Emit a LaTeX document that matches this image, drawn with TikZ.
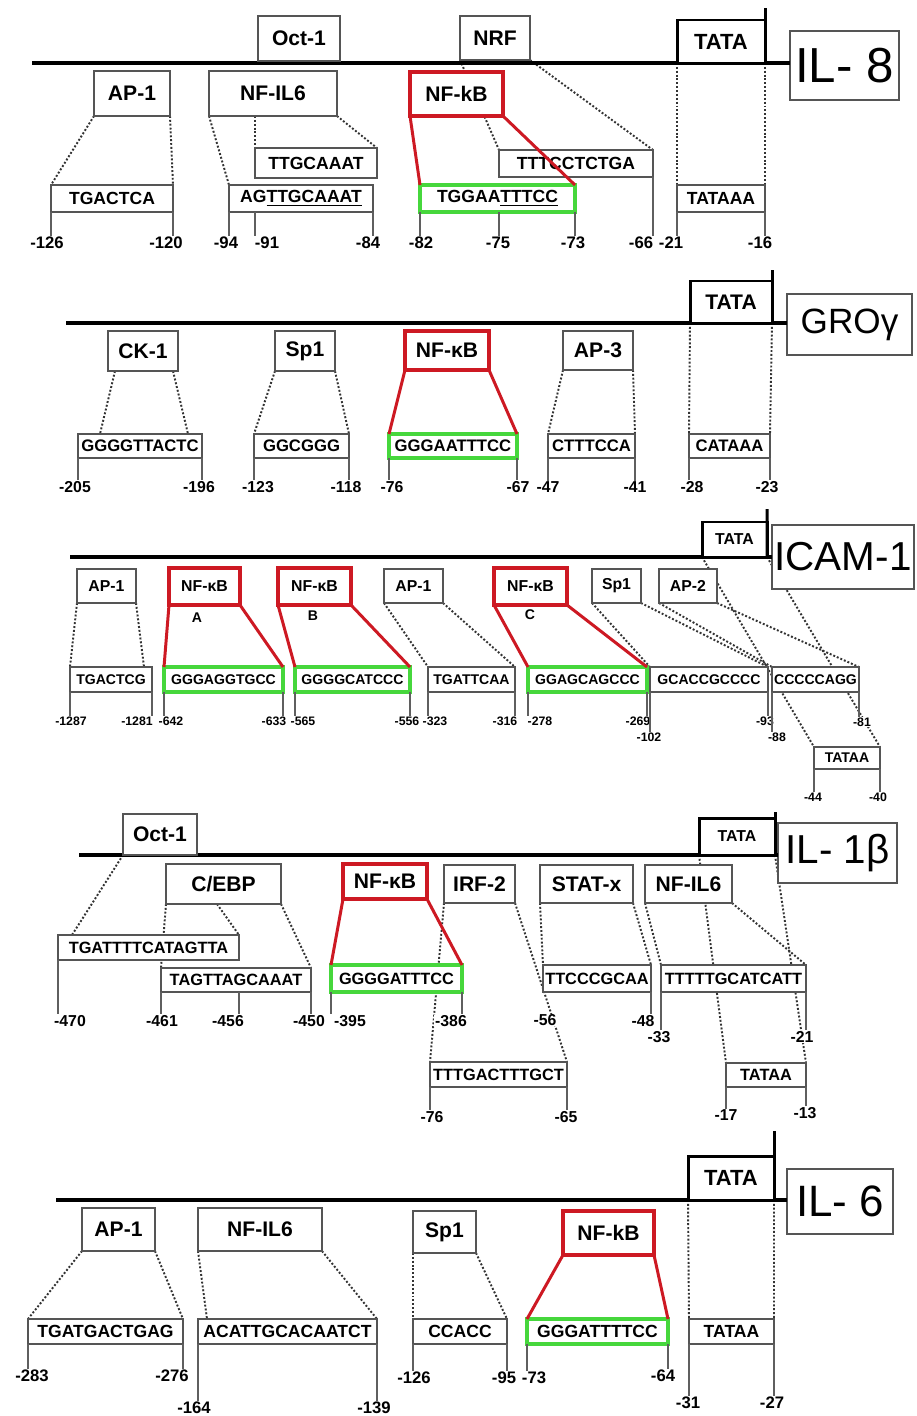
\documentclass[tikz,border=0pt]{standalone}
\usepackage{fontspec}
\setmainfont{Liberation Sans}
\usetikzlibrary{calc,backgrounds}
\definecolor{boxgray}{RGB}{85,85,85}
\definecolor{tickgray}{RGB}{95,95,95}
\definecolor{kbred}{RGB}{205,25,35}
\definecolor{kbgreen}{RGB}{70,215,60}
\tikzset{
  wd/.style={minimum width=#1*0.02cm},
  ht/.style={minimum height=#1*0.02cm},
  dnaline/.style={line width=2.3pt},
  tssline/.style={line width=1.7pt},
  tatabox/.style={draw, line width=1.7pt, fill=white, inner sep=0pt, outer sep=0pt, font=\bfseries\fontsize{12.5}{14}\selectfont},
  genebox/.style={draw=boxgray, line width=0.9pt, fill=white, inner sep=0pt, outer sep=0pt},
  sitebox/.style={draw=boxgray, line width=0.9pt, fill=white, inner sep=0pt, outer sep=0pt, font=\bfseries\fontsize{12}{14}\selectfont},
  kbbox/.style={sitebox, draw=kbred, line width=2.7pt},
  seqbox/.style={draw=boxgray, line width=1pt, fill=white, inner sep=0pt, outer sep=0pt, font=\bfseries\fontsize{10}{12}\selectfont},
  kbseq/.style={seqbox, draw=kbgreen, line width=2pt},
  posnum/.style={fill=white, inner sep=0.4pt, font=\bfseries\fontsize{9.5}{11}\selectfont},
  kbtag/.style={inner sep=0pt, font=\bfseries\fontsize{8}{9}\selectfont},
  tickline/.style={tickgray, line width=0.6pt},
  mapline/.style={black!80, line width=1.1pt, dash pattern=on 1.1pt off 1.1pt},
  kbline/.style={kbred, line width=1.7pt}
}

\begin{document}
\begin{tikzpicture}[x=0.02cm, y=-0.02cm]
\useasboundingbox (0,0) rectangle (916,1416);

\coordinate (il8start) at (32,63);
\coordinate (il8top) at (765,8);
\node[genebox, wd=109, ht=69, font=\fontsize{28}{30}\selectfont] (il8gene) at (844.5,65.5) {IL- 8};
\draw[dnaline] (il8start) -- (il8start -| il8gene.west);
\node[tatabox, wd=88, ht=43] (il8tata) at (721,41.5) {TATA};
\draw[tssline] (il8tata.south east) -- (il8top);
\node[sitebox, wd=82, ht=45] (il8oct) at (299,38.5) {Oct-1};
\node[sitebox, wd=70, ht=44] (il8nrf) at (495,38) {NRF};
\node[sitebox, wd=76, ht=45] (il8ap1) at (132,93.5) {AP-1};
\node[sitebox, wd=128, ht=45] (il8nfil6) at (273,93.5) {NF-IL6};
\node[kbbox, wd=93, ht=44] (il8kb) at (456.5,94) {NF-kB};
\node[seqbox, wd=122, ht=30] (il8nfil6t) at (316,163) {TTGCAAAT};
\node[seqbox, wd=154, ht=27] (il8nrfs) at (576,163.5) {TTTCCTCTGA};
\node[seqbox, wd=122, ht=27] (il8ap1s) at (112,198.5) {TGACTCA};
\node[seqbox, wd=144, ht=27] (il8nfil6s) at (301,198.5) {AG\underline{TTGCAAAT}};
\node[kbseq, wd=155, ht=27] (il8kbs) at (497.5,198.5) {TGGAA\underline{TTTCC}};
\node[seqbox, wd=88, ht=27] (il8tatas) at (721,198.5) {TATAAA};
\node[posnum] (il8n126) at (47,243) {-126};
\node[posnum] (il8n120) at (166,243) {-120};
\node[posnum] (il8n94) at (226,243) {-94};
\node[posnum] (il8n91) at (267,243) {-91};
\node[posnum] (il8n84) at (368,243) {-84};
\node[posnum] (il8n82) at (421,243) {-82};
\node[posnum] (il8n75) at (498,243) {-75};
\node[posnum] (il8n73) at (573,243) {-73};
\node[posnum] (il8n66) at (641,243) {-66};
\node[posnum] (il8n21) at (671,243) {-21};
\node[posnum] (il8n16) at (760,243) {-16};
\draw[tickline] (il8ap1s.south west) -- (il8ap1s.south west |- il8n126.north);
\draw[tickline] (il8ap1s.south east) -- (il8ap1s.south east |- il8n120.north);
\draw[tickline] (il8nfil6s.south west) -- (il8nfil6s.south west |- il8n94.north);
\draw[tickline] (il8nfil6t.south west |- il8nfil6s.south) -- (il8nfil6t.south west |- il8n91.north);
\draw[tickline] (il8nfil6s.south east) -- (il8nfil6s.south east |- il8n84.north);
\draw[tickline] (il8kbs.south west) -- (il8kbs.south west |- il8n82.north);
\draw[tickline] (il8nrfs.south west |- il8kbs.south) -- (il8nrfs.south west |- il8n75.north);
\draw[tickline] (il8kbs.south east) -- (il8kbs.south east |- il8n73.north);
\draw[tickline] (il8nrfs.south east) -- (il8nrfs.south east |- il8n66.north);
\draw[tickline] (il8tatas.south west) -- (il8tatas.south west |- il8n21.north);
\draw[tickline] (il8tatas.south east) -- (il8tatas.south east |- il8n16.north);
\draw[kbline] (il8kb.south west) -- (il8kbs.north west);
\draw[kbline] (il8kb.south east) -- (il8kbs.north east);

\begin{scope}[seqbox/.append style={font=\bfseries\fontsize{9.5}{11}\selectfont}, posnum/.append style={font=\bfseries\fontsize{9}{11}\selectfont}]
\coordinate (grostart) at (66,323);
\coordinate (grotop) at (772,270);
\node[genebox, wd=125, ht=61, font=\fontsize{20}{22}\selectfont] (grogene) at (849.5,324.5) {GROγ};
\draw[dnaline] (grostart) -- (grostart -| grogene.west);
\node[tatabox, wd=82, ht=42, font=\bfseries\fontsize{12}{14}\selectfont] (grotata) at (731,302) {TATA};
\draw[tssline] (grotata.south east) -- (grotop);
\node[sitebox, wd=70, ht=40] (grock1) at (143,351) {CK-1};
\node[sitebox, wd=60, ht=40] (grosp1) at (305,351) {Sp1};
\node[kbbox, wd=84, ht=39] (grokb) at (447,350.5) {NF-κB};
\node[sitebox, wd=70, ht=39] (groap3) at (598,350.5) {AP-3};
\node[seqbox, wd=124, ht=24] (grock1s) at (140,446) {GGGGTTACTC};
\node[seqbox, wd=95, ht=24] (grosp1s) at (301.5,446) {GGCGGG};
\node[kbseq, wd=128, ht=24] (grokbs) at (453,446) {GGGAATTTCC};
\node[seqbox, wd=87, ht=24] (groap3s) at (591.5,446) {CTTTCCA};
\node[seqbox, wd=81, ht=24] (grotatas) at (729.5,446) {CATAAA};
\node[posnum] (gron205) at (75,487) {-205};
\node[posnum] (gron196) at (199,487) {-196};
\node[posnum] (gron123) at (258,487) {-123};
\node[posnum] (gron118) at (346,487) {-118};
\node[posnum] (gron76) at (392,487) {-76};
\node[posnum] (gron67) at (518,487) {-67};
\node[posnum] (gron47) at (548,487) {-47};
\node[posnum] (gron41) at (635,487) {-41};
\node[posnum] (gron28) at (692,487) {-28};
\node[posnum] (gron23) at (767,487) {-23};
\draw[tickline] (grock1s.south west) -- (grock1s.south west |- gron205.north);
\draw[tickline] (grock1s.south east) -- (grock1s.south east |- gron196.north);
\draw[tickline] (grosp1s.south west) -- (grosp1s.south west |- gron123.north);
\draw[tickline] (grosp1s.south east) -- (grosp1s.south east |- gron118.north);
\draw[tickline] (grokbs.south west) -- (grokbs.south west |- gron76.north);
\draw[tickline] (grokbs.south east) -- (grokbs.south east |- gron67.north);
\draw[tickline] (groap3s.south west) -- (groap3s.south west |- gron47.north);
\draw[tickline] (groap3s.south east) -- (groap3s.south east |- gron41.north);
\draw[tickline] (grotatas.south west) -- (grotatas.south west |- gron28.north);
\draw[tickline] (grotatas.south east) -- (grotatas.south east |- gron23.north);
\draw[kbline] (grokb.south west) -- (grokbs.north west);
\draw[kbline] (grokb.south east) -- (grokbs.north east);
\end{scope}

\begin{scope}[sitebox/.append style={font=\bfseries\fontsize{9}{11}\selectfont}, seqbox/.append style={font=\bfseries\fontsize{8}{10}\selectfont}, posnum/.append style={font=\bfseries\fontsize{7}{8}\selectfont}, tatabox/.append style={font=\bfseries\fontsize{9}{11}\selectfont}]
\coordinate (icamstart) at (70,557);
\coordinate (icamtop) at (767,509);
\node[genebox, wd=142, ht=64, font=\fontsize{23}{25}\selectfont] (icamgene) at (843,557) {ICAM-1};
\draw[dnaline] (icamstart) -- (icamstart -| icamgene.west);
\node[tatabox, wd=65, ht=35] (icamtata) at (734.5,539.5) {TATA};
\draw[tssline] (icamtata.south east) -- (icamtop);
\node[sitebox, wd=59, ht=34] (icamap1a) at (106.5,586) {AP-1};
\node[kbbox, wd=71, ht=37] (icamkba) at (204.5,586.5) {NF-κB};
\node[kbbox, wd=73, ht=37] (icamkbb) at (314.5,586.5) {NF-κB};
\node[sitebox, wd=59, ht=34] (icamap1b) at (413.5,586) {AP-1};
\node[kbbox, wd=73, ht=37] (icamkbc) at (530.5,586.5) {NF-κB};
\node[sitebox, wd=49, ht=34] (icamsp1) at (616.5,586) {Sp1};
\node[sitebox, wd=58, ht=34] (icamap2) at (688,586) {AP-2};
\node[kbtag] (icamkbatag) at (197,618) {A};
\node[kbtag] (icamkbbtag) at (313,616) {B};
\node[kbtag] (icamkbctag) at (530,615) {C};
\node[seqbox, wd=82, ht=25] (icamap1as) at (111,679.5) {TGACTCG};
\node[kbseq, wd=119, ht=25] (icamkbas) at (223.5,679.5) {GGGAGGTGCC};
\node[kbseq, wd=115, ht=25] (icamkbbs) at (352.5,679.5) {GGGGCATCCC};
\node[seqbox, wd=87, ht=25] (icamap1bs) at (471.5,679.5) {TGATTCAA};
\node[kbseq, wd=119, ht=25] (icamkbcs) at (587.5,679.5) {GGAGCAGCCC};
\node[seqbox, wd=118, ht=25] (icamsp1s) at (709,679.5) {GCACCGCCCC};
\node[seqbox, wd=87, ht=25] (icamap2s) at (815.5,679.5) {CCCCCAGG};
\node[seqbox, wd=66, ht=22] (icamtatas) at (847,758) {TATAA};
\node[posnum] (icamn1287) at (71,721) {-1287};
\node[posnum] (icamn1281) at (137,721) {-1281};
\node[posnum] (icamn642) at (171,721) {-642};
\node[posnum] (icamn633) at (274,721) {-633};
\node[posnum] (icamn565) at (303,721) {-565};
\node[posnum] (icamn556) at (407,721) {-556};
\node[posnum] (icamn323) at (435,721) {-323};
\node[posnum] (icamn316) at (505,721) {-316};
\node[posnum] (icamn278) at (540,721) {-278};
\node[posnum] (icamn269) at (638,721) {-269};
\node[posnum] (icamn102) at (649,737) {-102};
\node[posnum] (icamn93) at (765,721) {-93};
\node[posnum] (icamn88) at (777,737) {-88};
\node[posnum] (icamn81) at (862,722) {-81};
\node[posnum] (icamn44) at (813,797) {-44};
\node[posnum] (icamn40) at (878,797) {-40};
\draw[tickline] (icamap1as.south west) -- (icamap1as.south west |- icamn1287.north);
\draw[tickline] (icamap1as.south east) -- (icamap1as.south east |- icamn1281.north);
\draw[tickline] (icamkbas.south west) -- (icamkbas.south west |- icamn642.north);
\draw[tickline] (icamkbas.south east) -- (icamkbas.south east |- icamn633.north);
\draw[tickline] (icamkbbs.south west) -- (icamkbbs.south west |- icamn565.north);
\draw[tickline] (icamkbbs.south east) -- (icamkbbs.south east |- icamn556.north);
\draw[tickline] (icamap1bs.south west) -- (icamap1bs.south west |- icamn323.north);
\draw[tickline] (icamap1bs.south east) -- (icamap1bs.south east |- icamn316.north);
\draw[tickline] (icamkbcs.south west) -- (icamkbcs.south west |- icamn278.north);
\draw[tickline] (icamkbcs.south east) -- (icamkbcs.south east |- icamn269.north);
\draw[tickline] (icamsp1s.south west) -- (icamsp1s.south west |- icamn102.north);
\draw[tickline] (icamsp1s.south east) -- (icamsp1s.south east |- icamn93.north);
\draw[tickline] (icamap2s.south west) -- (icamap2s.south west |- icamn88.north);
\draw[tickline] (icamap2s.south east) -- (icamap2s.south east |- icamn81.north);
\draw[tickline] (icamtatas.south west) -- (icamtatas.south west |- icamn44.north);
\draw[tickline] (icamtatas.south east) -- (icamtatas.south east |- icamn40.north);
\draw[kbline] (icamkba.south west) -- (icamkbas.north west);
\draw[kbline] (icamkba.south east) -- (icamkbas.north east);
\draw[kbline] (icamkbb.south west) -- (icamkbbs.north west);
\draw[kbline] (icamkbb.south east) -- (icamkbbs.north east);
\draw[kbline] (icamkbc.south west) -- (icamkbcs.north west);
\draw[kbline] (icamkbc.south east) -- (icamkbcs.north east);
\end{scope}

\begin{scope}[seqbox/.append style={font=\bfseries\fontsize{9.3}{11}\selectfont}, posnum/.append style={font=\bfseries\fontsize{9}{11}\selectfont}, tatabox/.append style={font=\bfseries\fontsize{9}{11}\selectfont}]
\coordinate (il1start) at (79,855);
\coordinate (il1top) at (775,812);
\node[genebox, wd=119, ht=60, font=\fontsize{23}{25}\selectfont] (il1gene) at (837.5,853) {IL- 1β};
\draw[dnaline] (il1start) -- (il1start -| il1gene.west);
\node[tatabox, wd=76, ht=37] (il1tata) at (737,836.5) {TATA};
\draw[tssline] (il1tata.south east) -- (il1top);
\node[sitebox, wd=74, ht=41] (il1oct) at (160,834.5) {Oct-1};
\node[sitebox, wd=115, ht=40] (il1cebp) at (223.5,884) {C/EBP};
\node[kbbox, wd=84, ht=35] (il1kb) at (385,881.5) {NF-κB};
\node[sitebox, wd=71, ht=38] (il1irf) at (479.5,884) {IRF-2};
\node[sitebox, wd=93, ht=38] (il1stat) at (586.5,884) {STAT-x};
\node[sitebox, wd=87, ht=38] (il1nfil6) at (688.5,884) {NF-IL6};
\node[seqbox, wd=181, ht=25] (il1octs) at (148.5,947.5) {TGATTTTCATAGTTA};
\node[seqbox, wd=150, ht=24] (il1cebps) at (236,980) {TAGTTAGCAAAT};
\node[kbseq, wd=131, ht=27] (il1kbs) at (396.5,978.5) {GGGGATTTCC};
\node[seqbox, wd=108, ht=27] (il1stats) at (597,978.5) {TTCCCGCAA};
\node[seqbox, wd=145, ht=27] (il1nfil6s) at (733.5,978.5) {TTTTTGCATCATT};
\node[seqbox, wd=137, ht=25] (il1irfs) at (498.5,1074.5) {TTTGACTTTGCT};
\node[seqbox, wd=80, ht=24] (il1tatas) at (766,1075) {TATAA};
\node[posnum] (il1n470) at (70,1021) {-470};
\node[posnum] (il1n461) at (162,1021) {-461};
\node[posnum] (il1n456) at (228,1021) {-456};
\node[posnum] (il1n450) at (309,1021) {-450};
\node[posnum] (il1n395) at (350,1021) {-395};
\node[posnum] (il1n386) at (451,1021) {-386};
\node[posnum] (il1n56) at (545,1020) {-56};
\node[posnum] (il1n48) at (643,1021) {-48};
\node[posnum] (il1n33) at (659,1037) {-33};
\node[posnum] (il1n21) at (802,1037) {-21};
\node[posnum] (il1n76) at (432,1117) {-76};
\node[posnum] (il1n65) at (566,1117) {-65};
\node[posnum] (il1n17) at (726,1115) {-17};
\node[posnum] (il1n13) at (805,1113) {-13};
\draw[tickline] (il1octs.south west) -- (il1octs.south west |- il1n470.north);
\draw[tickline] (il1cebps.south west) -- (il1cebps.south west |- il1n461.north);
\draw[tickline] (il1octs.south east |- il1cebps.south) -- (il1octs.south east |- il1n456.north);
\draw[tickline] (il1cebps.south east) -- (il1cebps.south east |- il1n450.north);
\draw[tickline] (il1kbs.south west) -- (il1kbs.south west |- il1n395.north);
\draw[tickline] (il1kbs.south east) -- (il1kbs.south east |- il1n386.north);
\draw[tickline] (il1stats.south east) -- (il1stats.south east |- il1n48.north);
\draw[tickline] (il1nfil6s.south west) -- (il1nfil6s.south west |- il1n33.north);
\draw[tickline] (il1nfil6s.south east) -- (il1nfil6s.south east |- il1n21.north);
\draw[tickline] (il1irfs.south west) -- (il1irfs.south west |- il1n76.north);
\draw[tickline] (il1irfs.south east) -- (il1irfs.south east |- il1n65.north);
\draw[tickline] (il1tatas.south west) -- (il1tatas.south west |- il1n17.north);
\draw[tickline] (il1tatas.south east) -- (il1tatas.south east |- il1n13.north);
\draw[kbline] (il1kb.south west) -- (il1kbs.north west);
\draw[kbline] (il1kb.south east) -- (il1kbs.north east);
\end{scope}

\coordinate (il6start) at (56,1200);
\coordinate (il6top) at (774,1131);
\node[genebox, wd=106, ht=65, font=\fontsize{25}{27}\selectfont] (il6gene) at (840,1201.5) {IL- 6};
\draw[dnaline] (il6start) -- (il6start -| il6gene.west);
\node[tatabox, wd=86, ht=44] (il6tata) at (731,1178) {TATA};
\draw[tssline] (il6tata.south east) -- (il6top);
\node[sitebox, wd=73, ht=43] (il6ap1) at (118.5,1229.5) {AP-1};
\node[sitebox, wd=124, ht=43] (il6nfil6) at (260,1229.5) {NF-IL6};
\node[sitebox, wd=63, ht=42] (il6sp1) at (444.5,1232) {Sp1};
\node[kbbox, wd=91, ht=44] (il6kb) at (608.5,1233) {NF-kB};
\node[seqbox, wd=155, ht=25] (il6ap1s) at (105.5,1331.5) {TGATGACTGAG};
\node[seqbox, wd=179, ht=25] (il6nfil6s) at (287.5,1331.5) {ACATTGCACAATCT};
\node[seqbox, wd=94, ht=25] (il6sp1s) at (460,1331.5) {CCACC};
\node[kbseq, wd=141, ht=25] (il6kbs) at (597.5,1331.5) {GGGATTTTCC};
\node[seqbox, wd=85, ht=25] (il6tatas) at (731.5,1331.5) {TATAA};
\node[posnum] (il6n283) at (32,1376) {-283};
\node[posnum] (il6n276) at (172,1376) {-276};
\node[posnum] (il6n164) at (194,1408) {-164};
\node[posnum] (il6n139) at (374,1408) {-139};
\node[posnum] (il6n126) at (414,1378) {-126};
\node[posnum] (il6n95) at (504,1378) {-95};
\node[posnum] (il6n73) at (534,1378) {-73};
\node[posnum] (il6n64) at (663,1376) {-64};
\node[posnum] (il6n31) at (688,1403) {-31};
\node[posnum] (il6n27) at (772,1403) {-27};
\draw[tickline] (il6ap1s.south west) -- (il6ap1s.south west |- il6n283.north);
\draw[tickline] (il6ap1s.south east) -- (il6ap1s.south east |- il6n276.north);
\draw[tickline] (il6nfil6s.south west) -- (il6nfil6s.south west |- il6n164.north);
\draw[tickline] (il6nfil6s.south east) -- (il6nfil6s.south east |- il6n139.north);
\draw[tickline] (il6sp1s.south west) -- (il6sp1s.south west |- il6n126.north);
\draw[tickline] (il6sp1s.south east) -- (il6sp1s.south east |- il6n95.north);
\draw[tickline] (il6kbs.south west) -- (il6kbs.south west |- il6n73.north);
\draw[tickline] (il6kbs.south east) -- (il6kbs.south east |- il6n64.north);
\draw[tickline] (il6tatas.south west) -- (il6tatas.south west |- il6n31.north);
\draw[tickline] (il6tatas.south east) -- (il6tatas.south east |- il6n27.north);
\draw[kbline] (il6kb.south west) -- (il6kbs.north west);
\draw[kbline] (il6kb.south east) -- (il6kbs.north east);

\begin{scope}[on background layer]
\fill[white] (0,0) rectangle (916,1416);
\draw[mapline] (il8ap1.south west) -- (il8ap1s.north west);
\draw[mapline] (il8ap1.south east) -- (il8ap1s.north east);
\draw[mapline] (il8nfil6.south west) -- (il8nfil6s.north west);
\draw[mapline] (il8nfil6t.north west |- il8nfil6.south) -- (il8nfil6t.north west);
\draw[mapline] (il8nfil6.south east) -- (il8nfil6t.north east);
\draw[mapline] (il8nrf.south west) -- (il8nrfs.north west);
\draw[mapline] (il8nrf.south east) -- (il8nrfs.north east);
\draw[mapline] (il8tata.south west) -- (il8tatas.north west);
\draw[mapline] (il8tata.south east) -- (il8tatas.north east);
\draw[mapline] ($(grock1.south west)+(7,0)$) -- ($(grock1s.north west)+(22,0)$);
\draw[mapline] ($(grock1.south east)+(-5,0)$) -- ($(grock1s.north east)+(-14,0)$);
\draw[mapline] (grosp1.south west) -- (grosp1s.north west);
\draw[mapline] (grosp1.south east) -- (grosp1s.north east);
\draw[mapline] (groap3.south west) -- (groap3s.north west);
\draw[mapline] (groap3.south east) -- (groap3s.north east);
\draw[mapline] (grotata.south west) -- (grotatas.north west);
\draw[mapline] (grotata.south east) -- (grotatas.north east);
\draw[mapline] (icamap1a.south west) -- (icamap1as.north west);
\draw[mapline] (icamap1a.south east) -- ($(icamap1as.north east)+(-8,0)$);
\draw[mapline] (icamap1b.south west) -- (icamap1bs.north west);
\draw[mapline] (icamap1b.south east) -- (icamap1bs.north east);
\draw[mapline] (icamsp1.south west) -- (icamsp1s.north west);
\draw[mapline] (icamsp1.south east) -- (icamsp1s.north east);
\draw[mapline] (icamap2.south west) -- (icamap2s.north west);
\draw[mapline] (icamap2.south east) -- (icamap2s.north east);
\draw[mapline] (icamtata.south west) -- (icamtatas.north west);
\draw[mapline] (icamtata.south east) -- (icamtatas.north east);
\draw[mapline] (il1oct.south west) -- ($(il1octs.north west)+(14,0)$);
\draw[mapline] (il1cebp.south west) -- (il1cebps.north west);
\draw[mapline] ($(il1cebp.south west)+(51,0)$) -- (il1octs.north east);
\draw[mapline] (il1cebp.south east) -- (il1cebps.north east);
\draw[mapline] (il1irf.south west) -- (il1irfs.north west);
\draw[mapline] (il1irf.south east) -- (il1irfs.north east);
\draw[mapline] (il1stat.south west) -- (il1stats.north west);
\draw[mapline] (il1stat.south east) -- (il1stats.north east);
\draw[mapline] (il1nfil6.south west) -- (il1nfil6s.north west);
\draw[mapline] (il1nfil6.south east) -- (il1nfil6s.north east);
\draw[mapline] (il1tata.south west) -- (il1tatas.north west);
\draw[mapline] (il1tata.south east) -- (il1tatas.north east);
\draw[mapline] (il6ap1.south west) -- (il6ap1s.north west);
\draw[mapline] (il6ap1.south east) -- (il6ap1s.north east);
\draw[mapline] (il6nfil6.south west) -- ($(il6nfil6s.north west)+(9,0)$);
\draw[mapline] (il6nfil6.south east) -- (il6nfil6s.north east);
\draw[mapline] (il6sp1.south west) -- (il6sp1s.north west);
\draw[mapline] (il6sp1.south east) -- (il6sp1s.north east);
\draw[mapline] (il6tata.south west) -- (il6tatas.north west);
\draw[mapline] (il6tata.south east) -- (il6tatas.north east);
\end{scope}
\end{tikzpicture}
\end{document}
